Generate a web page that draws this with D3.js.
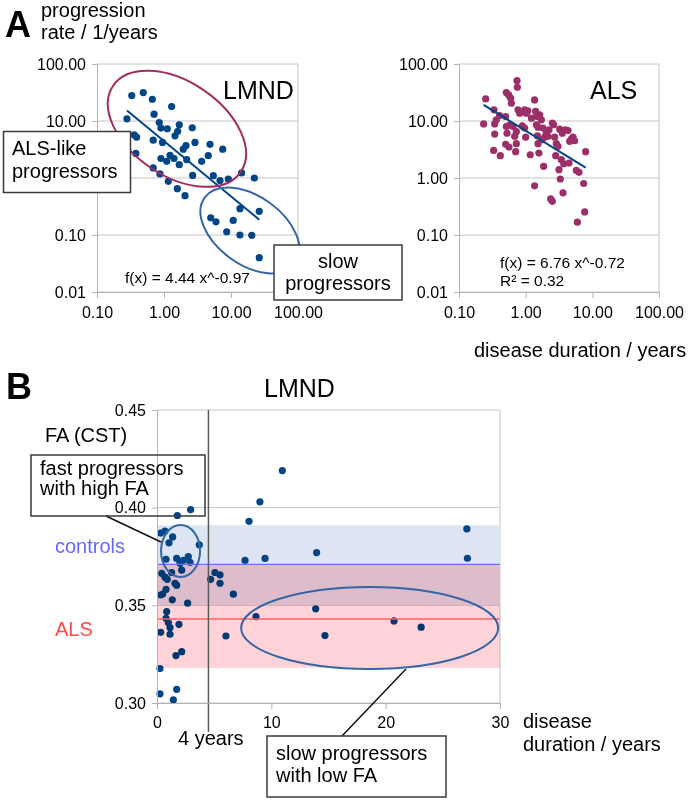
<!DOCTYPE html>
<html><head><meta charset="utf-8">
<script src="https://cdn.jsdelivr.net/npm/d3@7"></script>
<style>
body{margin:0;background:#fff}
svg{display:block}
text{font-family:"Liberation Sans",Arial,Helvetica,sans-serif;fill:#000}
</style>
</head><body>
<svg id="chart" width="689" height="801"></svg>
<script>
// ---------- DATA ----------
// Panel A, LMND: disease duration (years) vs progression rate (1/years)
const lmndDuration=[0.33,0.49,0.67,1.30,0.71,0.28,0.85,0.90,1.12,1.69,2.64,1.60,1.46,0.36,0.39,0.69,0.95,2.90,2.13,1.94,4.86,7.52,0.38,1.23,0.90,1.10,1.41,1.69,2.18,3.65,4.58,0.69,0.87,2.68,1.16,1.58,2.06,5.45,6.85,9.12,14.4,22.3,13.6,26.4,4.98,5.97,10.8,8.63,13.6,20.4,26.4];
const lmndRate=[27.9,31.5,24.1,17.9,13.2,10.9,9.4,7.5,7.3,8.6,7.6,6.6,5.5,5.7,5.2,4.6,4.2,4.2,3.7,3.2,3.9,3.2,2.7,2.5,2.2,1.96,2.2,1.71,2.1,1.96,2.47,1.50,1.18,1.11,0.875,0.65,0.49,1.10,0.90,0.96,1.23,1.0,0.29,0.26,0.20,0.17,0.18,0.114,0.10,0.099,0.040];
// Panel A, ALS
const alsDuration=[0.251,0.234,0.335,0.343,0.343,0.331,0.417,0.407,0.513,0.556,0.596,0.610,0.501,0.513,0.525,0.501,0.562,0.646,0.724,0.708,0.741,0.750,0.767,0.813,0.724,0.966,1.02,1.08,0.891,0.966,1.0,1.17,1.36,1.41,1.50,1.62,1.36,1.45,1.53,1.50,1.53,1.58,1.72,1.76,1.86,1.93,2.04,2.16,2.24,2.37,2.51,2.51,2.63,2.72,2.82,2.88,3.05,3.16,3.24,3.31,3.43,3.55,3.63,3.72,3.98,4.32,4.47,4.84,5.13,5.43,4.57,5.75,6.31,5.96,7.41,7.67,7.94,0.363,0.575,0.684,1.22,1.82];
const alsRate=[24.4,8.9,15.7,8.9,5.9,3.05,2.46,12.5,31.5,28.7,25.1,20.5,12.0,8.0,6.1,3.9,3.5,8.0,6.5,2.9,51,39,15.7,13.7,4.0,15.7,13.7,15.1,8.2,7.5,5.2,2.56,23.4,14.7,12.0,12.8,0.73,8.6,7.8,5.5,4.0,2.74,10.5,4.7,1.6,5.2,6.1,5.4,7.0,0.43,0.39,9.2,8.6,5.2,2.46,4.0,3.6,1.40,7.2,0.96,2.1,6.1,0.55,1.78,7.0,6.8,1.83,4.8,5.2,4.5,4.4,1.36,1.26,0.168,0.80,0.254,2.9,10.5,8.5,5.4,11.2,7.5];
// power-law fits f(x) = a * x^b
const lmndFitCoef=[4.44,-0.97];
const alsFitCoef=[6.76,-0.72];
const alsR2=0.32;
// Panel B, LMND: disease duration (years) vs FA (CST)
const faDuration=[10.96,9.0,8.05,2.94,1.78,13.96,7.70,9.45,3.70,0.32,0.70,1.37,1.05,1.72,2.74,2.01,2.30,2.89,2.16,0.79,0.41,0.70,0.90,1.28,1.57,1.72,0.79,0.50,1.34,2.68,0.32,0.85,0.79,0.99,1.14,1.14,1.92,0.32,1.66,2.16,0.26,0.26,1.72,1.43,4.69,5.07,5.51,5.51,6.68,6.03,8.66,13.88,14.69,27.1,27.15,20.73,23.1];
const faValue=[0.419,0.403,0.393,0.399,0.396,0.377,0.373,0.374,0.381,0.387,0.388,0.385,0.382,0.374,0.375,0.3715,0.373,0.372,0.368,0.3736,0.3664,0.3644,0.3633,0.3668,0.3613,0.3603,0.3582,0.3558,0.3528,0.3511,0.3553,0.3468,0.3434,0.3412,0.3386,0.3352,0.3403,0.3362,0.3243,0.3263,0.3176,0.3047,0.3070,0.3016,0.3633,0.3668,0.3656,0.3613,0.3557,0.3343,0.3442,0.3482,0.3345,0.3891,0.3741,0.342,0.3388];
const controlsMean=0.371, controlsBand=[0.350,0.391];
const alsMean=0.343, alsBand=[0.318,0.371];
const cutoffYears=4.5;
// tick values
const logXTicks=[0.1,1,10,100];
const logYTicks=[0.01,0.1,1,10,100];
const lmndYLabelTicks=[0.01,0.1,10,100]; // 1.00 is hidden behind the "ALS-like" box in the original
const faTicks=[0.30,0.35,0.40,0.45];
const durTicks=[0,10,20,30];

// ---------- DRAW ----------
const svg=d3.select("#chart");
const GRID="#c6c6c6", AXIS="#b3b3b3";
const DOT_BLUE="#004586", DOT_MAG="#9c2f68", ELL_BLUE="#3465a4", ELL_PURP="#a12d62";
const fmt2=d3.format(".2f");

function styleAxis(g){
  g.selectAll(".domain").attr("stroke",AXIS).attr("stroke-width",1);
  g.selectAll(".tick line").attr("stroke",AXIS);
  g.selectAll(".tick text").attr("fill","#000").style("font-size","16px")
    .style("font-family",'"Liberation Sans",Arial,sans-serif');
}

function logPanel(x0,x1,dur,rate,color,coef,labelTicks){
  const x=d3.scaleLog().domain([0.1,100]).range([x0,x1]);
  const y=d3.scaleLog().domain([0.01,100]).range([292,64]);
  const g=svg.append("g");
  g.selectAll("line.grid").data(logYTicks).join("line")
    .attr("x1",x0).attr("x2",x1).attr("y1",d=>y(d)).attr("y2",d=>y(d))
    .attr("stroke",GRID).attr("stroke-width",1);
  g.append("line").attr("x1",x1).attr("x2",x1).attr("y1",y(100)).attr("y2",y(0.01))
    .attr("stroke",GRID);
  const ax=g.append("g").attr("transform",`translate(${x0},0)`)
    .call(d3.axisLeft(y).tickValues(labelTicks).tickFormat(fmt2).tickSize(5).tickPadding(6));
  styleAxis(ax);
  const bx=g.append("g").attr("transform",`translate(0,${y(0.01)})`)
    .call(d3.axisBottom(x).tickValues(logXTicks).tickFormat(fmt2).tickSize(6).tickPadding(9));
  styleAxis(bx);
  g.selectAll("circle").data(dur.map((d,i)=>[d,rate[i]])).join("circle")
    .attr("cx",d=>x(d[0])).attr("cy",d=>y(d[1])).attr("r",3.6).attr("fill",color);
  const ext=d3.extent(dur);
  const fitPts=ext.map(v=>[v,coef[0]*Math.pow(v,coef[1])]);
  g.append("path").attr("d",d3.line().x(d=>x(d[0])).y(d=>y(d[1]))(fitPts))
    .attr("stroke",DOT_BLUE).attr("stroke-width",2).attr("fill","none");
  return {x,y,g};
}

const L=logPanel(97,298,lmndDuration,lmndRate,DOT_BLUE,lmndFitCoef,lmndYLabelTicks);
const R=logPanel(459,659,alsDuration,alsRate,DOT_MAG,alsFitCoef,logYTicks);

// ellipses panel A
function ell(cx,cy,rx,ry,rot,col){
  svg.append("ellipse").attr("cx",0).attr("cy",0).attr("rx",rx).attr("ry",ry)
    .attr("transform",`translate(${cx},${cy}) rotate(${rot})`)
    .attr("fill","none").attr("stroke",col).attr("stroke-width",2);
}
ell(L.x(1.56),L.y(7.3),77,47,34,ELL_PURP);
ell(L.x(19.2),L.y(0.12),56,34,36,ELL_BLUE);

function txt(x,y,s,size,opts={}){
  const t=svg.append("text").attr("x",x).attr("y",y).text(s).style("font-size",size+"px");
  if(opts.bold) t.style("font-weight","bold");
  if(opts.fill) t.style("fill",opts.fill);
  if(opts.anchor) t.attr("text-anchor",opts.anchor);
  return t;
}
function box(x,y,w,h,fill){
  svg.append("rect").attr("x",x).attr("y",y).attr("width",w).attr("height",h)
    .attr("fill",fill||"#fff").attr("stroke","#3a3a3a").attr("stroke-width",1.5);
}

// Panel A labels
txt(5,37,"A",36,{bold:true});
txt(41,17,"progression",20);
txt(41,39,"rate / 1/years",20);
txt(223,99,"LMND",25);
txt(590,99,"ALS",25);
txt(125,283,`f(x) = ${lmndFitCoef[0]} x^${lmndFitCoef[1]}`,15.5);
txt(500,268,`f(x) = ${alsFitCoef[0]} x^${alsFitCoef[1]}`,15.5);
txt(500,286,`R² = ${alsR2}`,15.5);
box(3.5,131.5,127,61);
txt(12,155,"ALS-like",20);
txt(12,178,"progressors",20);
box(274,245,128,55);
txt(338,268,"slow",20,{anchor:"middle"});
txt(338,290,"progressors",20,{anchor:"middle"});
txt(474,357,"disease duration / years",20);

// ---------- Panel B ----------
const xb=d3.scaleLinear().domain([0,30]).range([157,500]);
const yb=d3.scaleLinear().domain([0.30,0.45]).range([703,410]);
const gb=svg.append("g");
gb.selectAll("line.grid").data(faTicks).join("line")
  .attr("x1",xb(0)).attr("x2",xb(30)).attr("y1",d=>yb(d)).attr("y2",d=>yb(d))
  .attr("stroke",GRID);
gb.append("line").attr("x1",xb(30)).attr("x2",xb(30)).attr("y1",yb(0.45)).attr("y2",yb(0.30)).attr("stroke",GRID);
gb.append("rect").attr("x",xb(0)).attr("width",xb(30)-xb(0))
  .attr("y",yb(controlsBand[1])).attr("height",yb(controlsBand[0])-yb(controlsBand[1]))
  .attr("fill","#dde5f2");
gb.selectAll("circle").data(faDuration.map((d,i)=>[d,faValue[i]])).join("circle")
  .attr("cx",d=>xb(d[0])).attr("cy",d=>yb(d[1])).attr("r",3.6).attr("fill",DOT_BLUE);
gb.append("rect").attr("x",xb(0)).attr("width",xb(30)-xb(0))
  .attr("y",yb(alsBand[1])).attr("height",yb(alsBand[0])-yb(alsBand[1]))
  .attr("fill","#ffd3d7").style("mix-blend-mode","multiply");
gb.append("line").attr("x1",xb(0)).attr("x2",xb(30)).attr("y1",yb(controlsMean)).attr("y2",yb(controlsMean))
  .attr("stroke","#7070ff").attr("stroke-width",1.3);
gb.append("line").attr("x1",xb(0)).attr("x2",xb(30)).attr("y1",yb(alsMean)).attr("y2",yb(alsMean))
  .attr("stroke","#ff6464").attr("stroke-width",1.5);
gb.append("line").attr("x1",xb(cutoffYears)).attr("x2",xb(cutoffYears)).attr("y1",yb(0.45)).attr("y2",732)
  .attr("stroke","#5a5a5a").attr("stroke-width",1.5);

// ellipses panel B
ell(xb(2.06),yb(0.3778),19.5,26,0,ELL_BLUE);
ell(xb(18.6),yb(0.3384),128.5,41,0,ELL_BLUE);

// connectors
svg.append("line").attr("x1",106).attr("y1",516).attr("x2",161).attr("y2",542).attr("stroke","#111").attr("stroke-width",1.5);
svg.append("line").attr("x1",406).attr("y1",669).attr("x2",342).attr("y2",736).attr("stroke","#111").attr("stroke-width",1.5);

// labels panel B
txt(6,399,"B",36,{bold:true});
txt(264,397,"LMND",25);
txt(45,442,"FA (CST)",20);
box(31,455,174,61,"none");
txt(40,475,"fast progressors",20);
txt(40,495,"with high FA",20);

const ayb=gb.append("g").attr("transform",`translate(${xb(0)},0)`)
  .call(d3.axisLeft(yb).tickValues(faTicks).tickFormat(fmt2).tickSize(5).tickPadding(6));
styleAxis(ayb);
const axb=gb.append("g").attr("transform",`translate(0,${yb(0.30)})`)
  .call(d3.axisBottom(xb).tickValues(durTicks).tickFormat(d3.format("d")).tickSize(6).tickPadding(7.5));
styleAxis(axb);

txt(55,553,"controls",20,{fill:"#6767ff"});
txt(55,636,"ALS",20,{fill:"#ff4a4a"});
txt(178,745,"4 years",20);
box(267,736,179,61);
txt(276,760,"slow progressors",20);
txt(276,782,"with low FA",20);
txt(523,728,"disease",20);
txt(523,751,"duration / years",20);
</script>
</body></html>
